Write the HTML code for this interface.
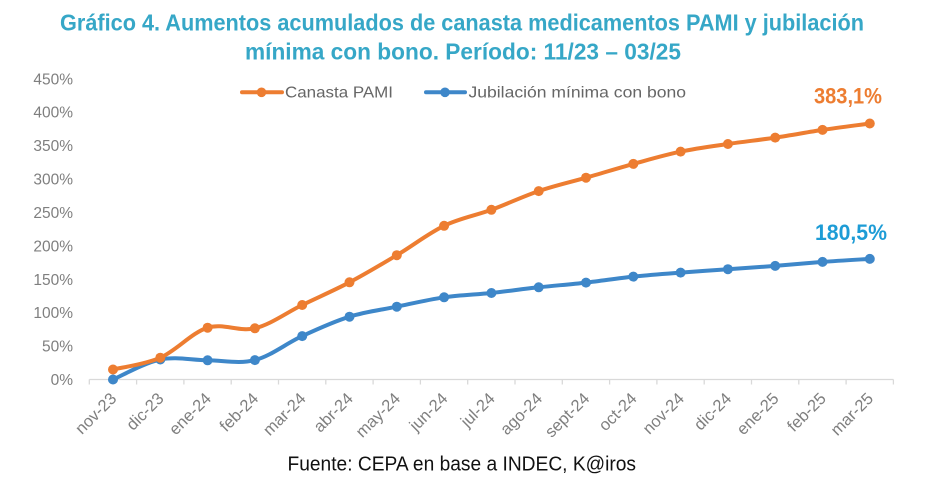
<!DOCTYPE html>
<html>
<head>
<meta charset="utf-8">
<style>
  html, body { margin:0; padding:0; background:#fff; }
  svg { display:block; }
  text { font-family: "Liberation Sans", sans-serif; }
</style>
</head>
<body>
<svg id="c" width="928" height="482" viewBox="0 0 928 482" xmlns="http://www.w3.org/2000/svg">
  <rect width="928" height="482" fill="#fff"/>
  <!-- Title -->
  <text x="60" y="30.5" font-size="23" font-weight="bold" fill="#36a7c7" textLength="804" lengthAdjust="spacingAndGlyphs">Gráfico 4. Aumentos acumulados de canasta medicamentos PAMI y jubilación</text>
  <text x="245" y="59.5" font-size="23" font-weight="bold" fill="#36a7c7" textLength="436" lengthAdjust="spacingAndGlyphs">mínima con bono. Período: 11/23 – 03/25</text>

  <!-- Legend -->
  <line x1="242" y1="92.3" x2="282" y2="92.3" stroke="#ED7D31" stroke-width="4" stroke-linecap="round"/>
  <circle cx="261.5" cy="92.3" r="4.8" fill="#ED7D31"/>
  <text x="285" y="97.5" font-size="16" fill="#666" textLength="108" lengthAdjust="spacingAndGlyphs">Canasta PAMI</text>
  <line x1="426" y1="92.3" x2="465" y2="92.3" stroke="#3E87C9" stroke-width="4" stroke-linecap="round"/>
  <circle cx="445" cy="92.3" r="4.8" fill="#3E87C9"/>
  <text x="468.5" y="97.5" font-size="16" fill="#666" textLength="217.5" lengthAdjust="spacingAndGlyphs">Jubilación mínima con bono</text>

  <!-- Y axis labels -->
  <g font-size="15.5" fill="#7f7f7f" text-anchor="end" id="ylabels"></g>
  <!-- X axis -->
  <g id="axis"></g>
  <g font-size="16.5" fill="#7f7f7f" text-anchor="end" id="xlabels"></g>

  <!-- Series -->
  <g id="series"></g>

  <!-- Data labels -->
  <text x="814" y="103.5" font-size="22" font-weight="bold" fill="#ED7D31" textLength="68" lengthAdjust="spacingAndGlyphs">383,1%</text>
  <text x="815" y="240" font-size="22" font-weight="bold" fill="#1D9CD6" textLength="72" lengthAdjust="spacingAndGlyphs">180,5%</text>

  <!-- Source -->
  <text x="287.5" y="470.7" font-size="20" fill="#111" textLength="348.5" lengthAdjust="spacingAndGlyphs">Fuente: CEPA en base a INDEC, K@iros</text>
</svg>
<script>
(function(){
  var NS = "http://www.w3.org/2000/svg";
  var y0 = 379.5, k = 0.6682;
  function Y(v){ return y0 - v*k; }
  var x0 = 113, dx = 47.3;
  var cats = ["nov-23","dic-23","ene-24","feb-24","mar-24","abr-24","may-24","jun-24","jul-24","ago-24","sept-24","oct-24","nov-24","dic-24","ene-25","feb-25","mar-25"];
  var orange = [15,32.6,77.5,76.6,111.5,145.5,186,230,254,282,302,322.6,341,352.5,362,373.5,383.1];
  var blue = [0,30,28.7,29,65,94,109,123,129.5,138,145,154,160,165,170,176,180.5];

  var yl = document.getElementById("ylabels");
  for (var v=0; v<=450; v+=50){
    var t = document.createElementNS(NS,"text");
    t.setAttribute("x","73"); t.setAttribute("y",(Y(v)+5.5).toFixed(1));
    t.textContent = v + "%";
    yl.appendChild(t);
  }
  var ax = document.getElementById("axis");
  var l = document.createElementNS(NS,"line");
  l.setAttribute("x1","89.3"); l.setAttribute("x2","893.4");
  l.setAttribute("y1",y0); l.setAttribute("y2",y0);
  l.setAttribute("stroke","#d9d9d9"); l.setAttribute("stroke-width","1.3");
  ax.appendChild(l);
  for (var i=0;i<=17;i++){
    var xx = 89.3 + i*dx;
    var tk = document.createElementNS(NS,"line");
    tk.setAttribute("x1",xx); tk.setAttribute("x2",xx);
    tk.setAttribute("y1",y0); tk.setAttribute("y2",y0+5);
    tk.setAttribute("stroke","#d9d9d9"); tk.setAttribute("stroke-width","1.3");
    ax.appendChild(tk);
  }
  var xl = document.getElementById("xlabels");
  cats.forEach(function(c,i){
    var cx = x0 + i*dx + 4.5, cy = 399.5;
    var t = document.createElementNS(NS,"text");
    t.setAttribute("x",cx.toFixed(1)); t.setAttribute("y",cy);
    t.setAttribute("transform","rotate(-45 "+cx.toFixed(1)+" "+cy+")");
    t.textContent = c;
    xl.appendChild(t);
  });
  var sg = document.getElementById("series");
  function draw(data,color){
    var p = data.map(function(v,i){ return [x0+i*dx, Y(v)]; });
    var d = "M"+p[0][0].toFixed(1)+","+p[0][1].toFixed(1);
    for (var i=0;i<p.length-1;i++){
      var p0 = p[i>0?i-1:i], p1=p[i], p2=p[i+1], p3=p[i+2<p.length?i+2:i+1];
      var c1x = p1[0]+(p2[0]-p0[0])/6, c1y = p1[1]+(p2[1]-p0[1])/6;
      var c2x = p2[0]-(p3[0]-p1[0])/6, c2y = p2[1]-(p3[1]-p1[1])/6;
      d += " C"+c1x.toFixed(1)+","+c1y.toFixed(1)+" "+c2x.toFixed(1)+","+c2y.toFixed(1)+" "+p2[0].toFixed(1)+","+p2[1].toFixed(1);
    }
    var path = document.createElementNS(NS,"path");
    path.setAttribute("d",d); path.setAttribute("fill","none");
    path.setAttribute("stroke",color); path.setAttribute("stroke-width","4");
    path.setAttribute("stroke-linecap","round"); path.setAttribute("stroke-linejoin","round");
    sg.appendChild(path);
    p.forEach(function(q){
      var c = document.createElementNS(NS,"circle");
      c.setAttribute("cx",q[0].toFixed(1)); c.setAttribute("cy",q[1].toFixed(1));
      c.setAttribute("r","5"); c.setAttribute("fill",color);
      sg.appendChild(c);
    });
  }
  draw(blue,"#3E87C9");
  draw(orange,"#ED7D31");
})();
</script>
</body>
</html>
